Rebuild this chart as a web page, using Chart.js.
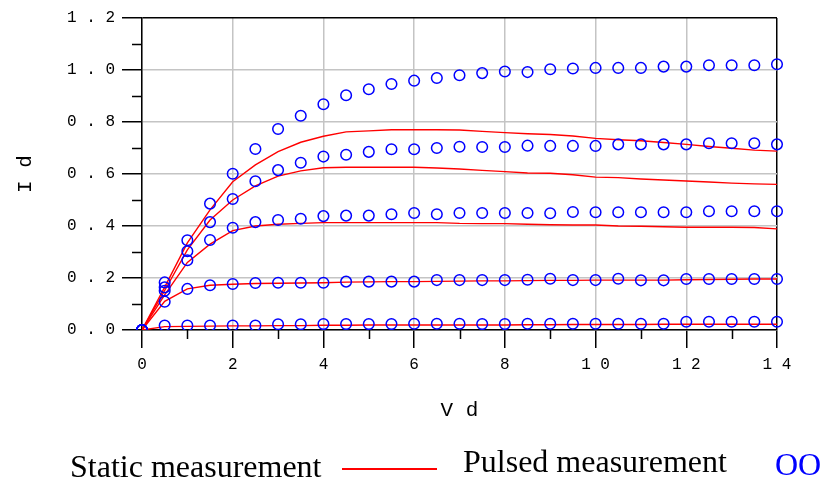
<!DOCTYPE html>
<html>
<head>
<meta charset="utf-8">
<script src="https://cdn.jsdelivr.net/npm/chart.js@4.4.1/dist/chart.umd.min.js"></script>
<style>
  body { margin: 0; background: #fff; }
  #wrap { position: relative; width: 825px; height: 481px; }
  .leg { position: absolute; font-family: "Liberation Serif", serif; font-size: 32px; line-height: 32px; color: #000; white-space: nowrap; }
</style>
</head>
<body>
<div id="wrap">
  <canvas id="ivChart" width="825" height="481"></canvas>
  <span class="leg" style="left:70px; top:450px;">Static measurement</span>
  <div style="position:absolute; left:342px; top:468px; width:95px; height:2px; background:#ff0000;"></div>
  <span class="leg" style="left:463px; top:445px;">Pulsed measurement</span>
  <span class="leg" style="left:775px; top:448px; color:#0000ff;">OO</span>
</div>
<script>
// Vd sweep points (0 .. 14 step 0.5)
const vd = [0, 0.5, 1, 1.5, 2, 2.5, 3, 3.5, 4, 4.5, 5, 5.5, 6, 6.5, 7, 7.5, 8, 8.5, 9, 9.5, 10, 10.5, 11, 11.5, 12, 12.5, 13, 13.5, 14];

// static measurement (red lines), one array per gate bias
const static1 = [0, 0.165, 0.335, 0.462, 0.570, 0.635, 0.686, 0.722, 0.745, 0.762, 0.766, 0.770, 0.770, 0.770, 0.769, 0.764, 0.759, 0.755, 0.752, 0.746, 0.737, 0.732, 0.728, 0.721, 0.714, 0.706, 0.699, 0.692, 0.688];
const static2 = [0, 0.152, 0.308, 0.423, 0.500, 0.554, 0.592, 0.612, 0.624, 0.626, 0.626, 0.626, 0.626, 0.623, 0.619, 0.614, 0.609, 0.604, 0.603, 0.597, 0.588, 0.586, 0.581, 0.577, 0.573, 0.569, 0.565, 0.562, 0.560];
const static3 = [0, 0.135, 0.260, 0.330, 0.382, 0.400, 0.407, 0.410, 0.413, 0.413, 0.413, 0.413, 0.413, 0.413, 0.410, 0.409, 0.409, 0.407, 0.405, 0.404, 0.404, 0.400, 0.399, 0.397, 0.395, 0.395, 0.395, 0.394, 0.389];
const static4 = [0, 0.110, 0.158, 0.172, 0.176, 0.179, 0.180, 0.181, 0.182, 0.184, 0.185, 0.186, 0.186, 0.187, 0.188, 0.189, 0.189, 0.190, 0.191, 0.191, 0.192, 0.192, 0.192, 0.192, 0.193, 0.194, 0.195, 0.196, 0.196];
const static5 = [0, 0.013, 0.014, 0.015, 0.016, 0.016, 0.017, 0.017, 0.018, 0.018, 0.019, 0.019, 0.019, 0.019, 0.019, 0.019, 0.019, 0.020, 0.020, 0.021, 0.021, 0.021, 0.021, 0.022, 0.022, 0.022, 0.022, 0.022, 0.022];

// pulsed measurement (blue circles)
const pulsed1 = [0, 0.183, 0.345, 0.486, 0.601, 0.696, 0.773, 0.824, 0.868, 0.903, 0.926, 0.946, 0.959, 0.969, 0.980, 0.988, 0.994, 0.992, 1.003, 1.006, 1.008, 1.008, 1.008, 1.013, 1.013, 1.018, 1.018, 1.018, 1.022];
const pulsed2 = [0, 0.164, 0.303, 0.415, 0.504, 0.572, 0.615, 0.643, 0.667, 0.674, 0.685, 0.695, 0.695, 0.700, 0.705, 0.704, 0.704, 0.709, 0.708, 0.708, 0.708, 0.714, 0.714, 0.714, 0.714, 0.718, 0.718, 0.718, 0.714];
const pulsed3 = [0, 0.151, 0.268, 0.346, 0.393, 0.415, 0.423, 0.428, 0.438, 0.440, 0.440, 0.445, 0.450, 0.445, 0.450, 0.450, 0.450, 0.450, 0.449, 0.454, 0.453, 0.453, 0.453, 0.453, 0.453, 0.457, 0.457, 0.457, 0.457];
const pulsed4 = [0, 0.109, 0.158, 0.172, 0.177, 0.181, 0.182, 0.182, 0.182, 0.186, 0.186, 0.186, 0.186, 0.192, 0.192, 0.192, 0.192, 0.193, 0.197, 0.192, 0.192, 0.197, 0.191, 0.191, 0.196, 0.196, 0.196, 0.196, 0.196];
const pulsed5 = [0, 0.017, 0.017, 0.017, 0.017, 0.017, 0.022, 0.022, 0.023, 0.023, 0.023, 0.023, 0.024, 0.024, 0.024, 0.023, 0.023, 0.024, 0.024, 0.024, 0.024, 0.024, 0.024, 0.024, 0.032, 0.032, 0.032, 0.032, 0.032];

// tick labels, spaced out like the original plot
const xTickLabels = ['0', '2', '4', '6', '8', '1 0', '1 2', '1 4'];
const yTickLabels = ['0 . 0', '0 . 2', '0 . 4', '0 . 6', '0 . 8', '1 . 0', '1 . 2'];

function pts(ys) {
    return ys.map((y, i) => ({ x: vd[i], y: y }));
}

function pulsedSet(ys) {
    return {
        type: 'scatter',
        data: pts(ys),
        showLine: false,
        pointStyle: 'circle',
        pointRadius: 5.3,
        pointHoverRadius: 5.3,
        pointBorderWidth: 1.5,
        pointBorderColor: '#0000ff',
        pointBackgroundColor: 'rgba(0,0,0,0)',
        clip: { left: 10, top: 10, right: 10, bottom: 0 }
    };
}

function staticSet(ys) {
    return {
        type: 'line',
        data: pts(ys),
        borderColor: '#ff0000',
        borderWidth: 1.4,
        pointRadius: 0,
        tension: 0,
        fill: false
    };
}

// short minor tick marks between the labelled ones
const minorTicks = {
    id: 'minorTicks',
    afterDraw(chart) {
        const ctx = chart.ctx;
        const xs = chart.scales.x, ys = chart.scales.y;
        const area = chart.chartArea;
        ctx.save();
        ctx.strokeStyle = '#000';
        ctx.lineWidth = 1.5;
        ctx.beginPath();
        for (let v = 1; v < 14; v += 2) {
            const px = Math.round(xs.getPixelForValue(v)) + 0.5;
            ctx.moveTo(px, area.bottom);
            ctx.lineTo(px, area.bottom + 9);
        }
        for (let k = 1; k < 12; k += 2) {
            const py = Math.round(ys.getPixelForValue(k / 10)) + 0.5;
            ctx.moveTo(area.left - 10, py);
            ctx.lineTo(area.left, py);
        }
        ctx.stroke();
        ctx.restore();
    }
};

const tickFont = { family: '"Liberation Mono", monospace', size: 16 };
const titleFont = { family: '"Liberation Mono", monospace', size: 21 };

new Chart(document.getElementById('ivChart').getContext('2d'), {
    type: 'scatter',
    data: {
        datasets: [
            pulsedSet(pulsed1), pulsedSet(pulsed2), pulsedSet(pulsed3), pulsedSet(pulsed4), pulsedSet(pulsed5),
            staticSet(static1), staticSet(static2), staticSet(static3), staticSet(static4), staticSet(static5)
        ]
    },
    options: {
        responsive: false,
        animation: false,
        layout: { padding: { left: 0, top: 18, right: 48, bottom: 58 } },
        plugins: {
            legend: { display: false },
            tooltip: { enabled: false }
        },
        scales: {
            x: {
                type: 'linear',
                min: 0,
                max: 14,
                afterFit: (s) => { s.height = 93; },
                ticks: {
                    stepSize: 2,
                    padding: 7,
                    color: '#000',
                    font: tickFont,
                    maxRotation: 0,
                    callback: (v, i) => xTickLabels[i]
                },
                grid: {
                    color: (c) => (c.tick && c.tick.value === 14) ? '#000' : '#c4c4c4',
                    lineWidth: 1.5,
                    tickColor: '#000',
                    tickLength: 18
                },
                border: { color: '#000', width: 1.5 },
                title: { display: true, text: 'V d', font: titleFont, color: '#000', padding: { top: 0, bottom: 0 } }
            },
            y: {
                type: 'linear',
                min: 0,
                max: 1.2,
                afterFit: (s) => { s.width = 142; },
                ticks: {
                    stepSize: 0.2,
                    padding: 7,
                    color: '#000',
                    font: tickFont,
                    callback: (v, i) => yTickLabels[i]
                },
                grid: {
                    color: (c) => (c.tick && Math.abs(c.tick.value - 1.2) < 1e-6) ? '#000' : '#c4c4c4',
                    lineWidth: 1.5,
                    tickColor: '#000',
                    tickLength: 20
                },
                border: { color: '#000', width: 1.5 },
                title: { display: true, text: 'I d', font: titleFont, color: '#000', padding: { top: 13, bottom: 0 } }
            }
        }
    },
    plugins: [minorTicks]
});
</script>
</body>
</html>
